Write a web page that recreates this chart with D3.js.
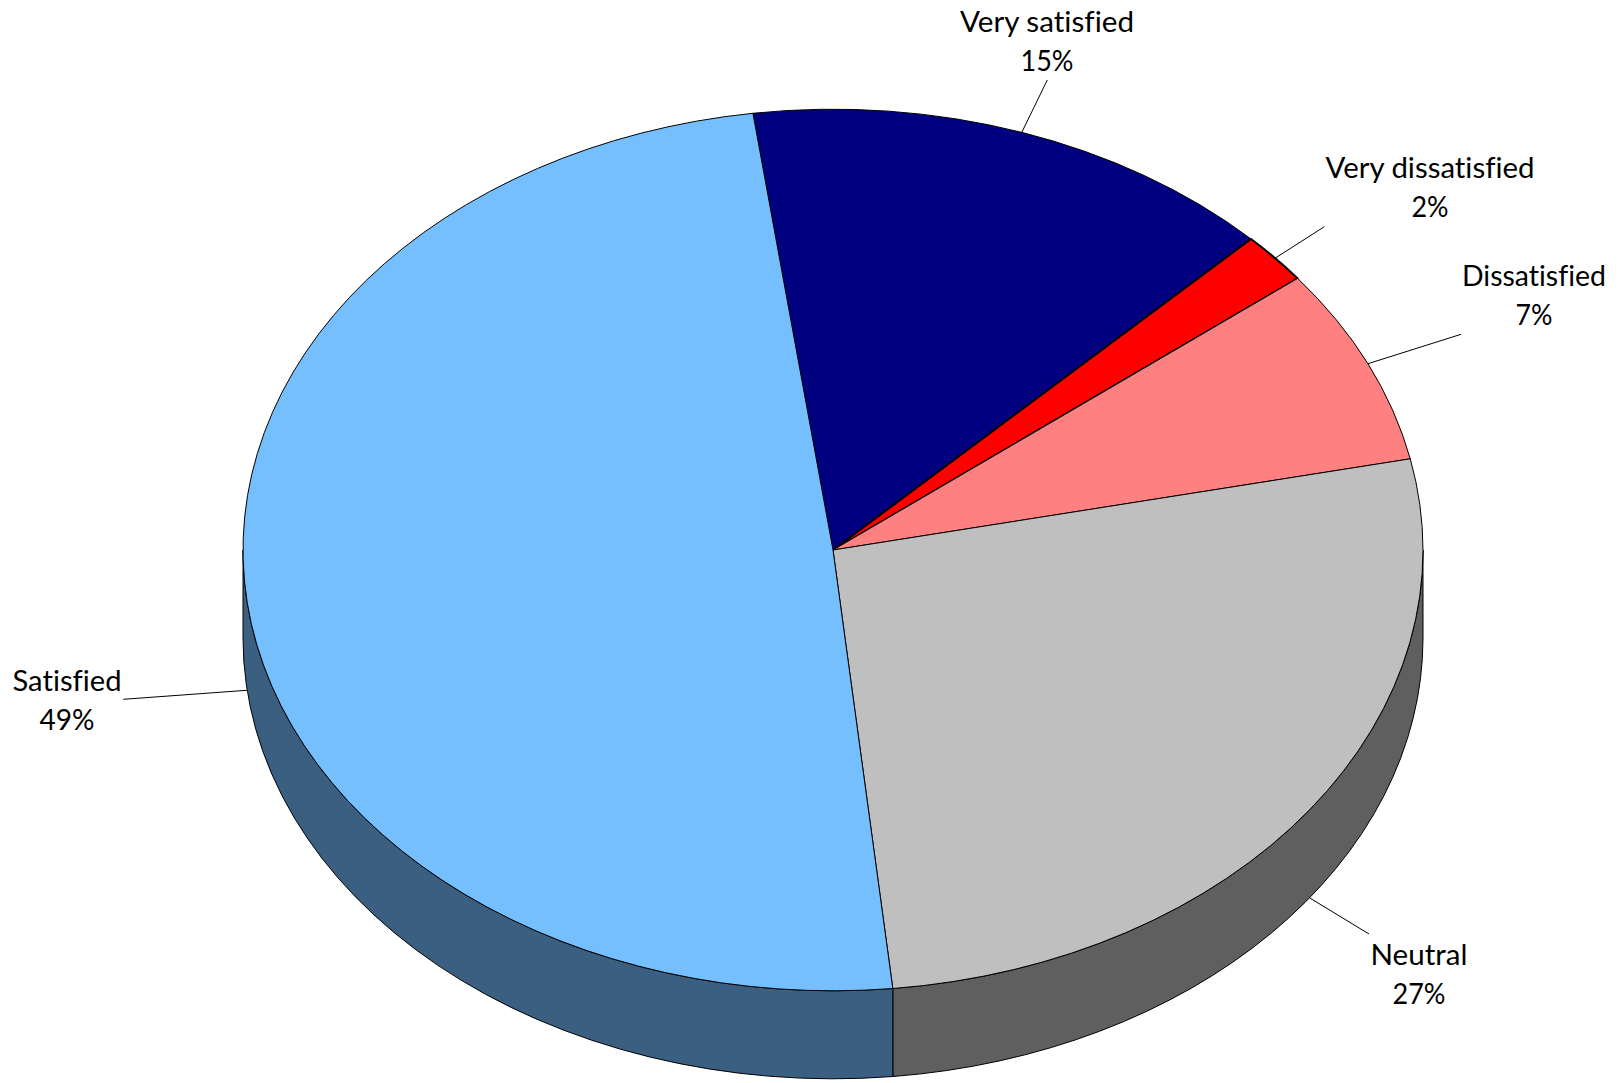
<!DOCTYPE html>
<html><head><meta charset="utf-8">
<script src="https://cdn.jsdelivr.net/npm/d3@7/dist/d3.min.js"></script>
<style>html,body{margin:0;padding:0;background:#fff;overflow:hidden}svg{display:block}
text{font-family:Lato,"Open Sans",sans-serif;fill:#000;font-variant-ligatures:none}</style></head>
<body><svg id="c" width="1618" height="1083"></svg>
<script>
const categories = ["Very satisfied","Very dissatisfied","Dissatisfied","Neutral","Satisfied"];
const shares = [14.7,1.9,7.25,26.7,49.45];
const percentLabels = ["15%","2%","7%","27%","49%"];
const topColors = ["#000080","#ff0000","#ff8080","#bfbfbf","#76bfff"];
const wallColors = ["#000040","#800000","#804040","#5f5f5f","#3b5f80"];

const W=1618,H=1083,cx=833,cy=550,rx=590,ry=440.8,depth=88,k=ry/rx;
const start=-7.8*Math.PI/180;
const layout=[ // label centre x, first baseline, leader end
 {x:1047,y:32,ex:1047.3,ey:80},
 {x:1430,y:177.7,ex:1324.3,ey:226.7},
 {x:1534,y:285.7,ex:1461,ey:334.3},
 {x:1419,y:965,ex:1369,ey:934},
 {x:67,y:690.7,ex:123.3,ey:699.3}];
const widths=[[174,53],[209,37],[144,37],[97,53],[109,55]];

const svg=d3.select("#c");
const pie=d3.pie().sort(null).startAngle(start).endAngle(start+2*Math.PI);
const arcs=pie(shares);
const arc=d3.arc().innerRadius(0).outerRadius(rx);
const g=svg.append("g").attr("transform",`translate(${cx},${cy}) scale(1,${k})`);

// visible wall: front half of the ellipse
const wallPath=(a0,a1)=>{const p=d3.path(),d=depth/k;
  p.arc(0,0,rx,a0-Math.PI/2,a1-Math.PI/2);
  p.arc(0,d,rx,a1-Math.PI/2,a0-Math.PI/2,true);p.closePath();return p.toString();};
arcs.forEach((d,i)=>{
  for(const off of [0,2*Math.PI]){
    const a0=Math.max(d.startAngle+off,Math.PI/2),a1=Math.min(d.endAngle+off,3*Math.PI/2);
    if(a1>a0) g.append("path").attr("d",wallPath(a0,a1)).attr("fill",wallColors[i])
      .attr("stroke","#000").attr("stroke-width",1).attr("vector-effect","non-scaling-stroke");
  }
});
g.selectAll("path.top").data(arcs).join("path").attr("class","top").attr("d",arc)
  .attr("fill",(d,i)=>topColors[i]).attr("stroke","#000")
  .attr("stroke-width",(d,i)=>i===1?2:1).attr("stroke-linejoin","round").attr("vector-effect","non-scaling-stroke");

// leaders start at the mid-angle of each slice, on the outer visible edge
arcs.forEach((d,i)=>{
  const m=(d.startAngle+d.endAngle)/2;
  let x=cx+rx*Math.sin(m),y=cy-ry*Math.cos(m);
  const mm=(m+2*Math.PI)%(2*Math.PI);
  if(mm>Math.PI/2&&mm<3*Math.PI/2) y+=depth;
  svg.append("line").attr("x1",x).attr("y1",y).attr("x2",layout[i].ex).attr("y2",layout[i].ey)
    .attr("stroke","#000").attr("stroke-width",1);
  const t=svg.append("g").attr("text-anchor","middle").style("font-size","28px");
  t.append("text").attr("x",layout[i].x).attr("y",layout[i].y).attr("textLength",widths[i][0]).attr("lengthAdjust","spacingAndGlyphs").text(categories[i]);
  t.append("text").attr("x",layout[i].x).attr("y",layout[i].y+39).attr("textLength",widths[i][1]).attr("lengthAdjust","spacingAndGlyphs").text(percentLabels[i]);
});
</script></body></html>
